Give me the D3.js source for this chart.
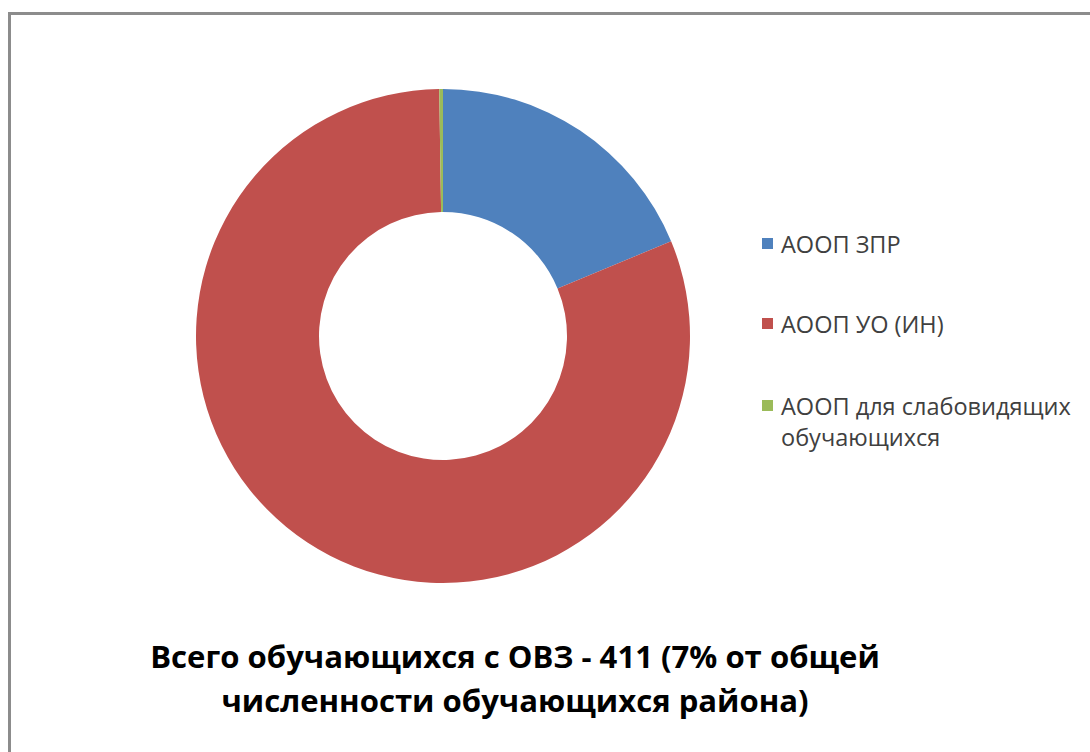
<!DOCTYPE html>
<html><head><meta charset="utf-8">
<script src="https://cdn.jsdelivr.net/npm/d3@7/dist/d3.min.js"></script>
<style>html,body{margin:0;padding:0;background:#fff;overflow:hidden}</style>
</head><body>
<svg id="c" width="1090" height="752"></svg>
<script>
const categories = ["АООП ЗПР", "АООП УО (ИН)", "АООП для слабовидящих обучающихся"];
const values = [77, 333, 1];
const colors = ["#4F81BD", "#C0504D", "#9BBB59"];
const legendLines = [["АООП ЗПР"], ["АООП УО (ИН)"], ["АООП для слабовидящих", "обучающихся"]];
const titleLines = ["Всего обучающихся с ОВЗ - 411 (7% от общей", "численности обучающихся района)"];

const svg = d3.select("#c");
svg.append("rect").attr("x", 0).attr("y", 0).attr("width", 1090).attr("height", 752).attr("fill", "#fff");
svg.append("rect").attr("x", 9.5).attr("y", 13.5).attr("width", 1200).attr("height", 1000)
  .attr("fill", "none").attr("stroke", "#8c8c8c").attr("stroke-width", 3);

const cx = 443, cy = 336, rOut = 247, rIn = 124;
const pie = d3.pie().sort(null).value(d => d)(values);
const arc = d3.arc().innerRadius(rIn).outerRadius(rOut);
const g = svg.append("g").attr("transform", `translate(${cx},${cy})`);
g.selectAll("path").data(pie).join("path")
  .attr("d", arc).attr("fill", (d, i) => colors[i]);

const font = "'Open Sans', 'DejaVu Sans', sans-serif";
const legY = [253, 333, 415];
const lg = svg.append("g");
categories.forEach((c, i) => {
  lg.append("rect").attr("x", 762).attr("y", legY[i] - 15).attr("width", 11).attr("height", 11).attr("fill", colors[i]);
  legendLines[i].forEach((t, j) => {
    lg.append("text").attr("x", 781).attr("y", legY[i] + j * 31)
      .attr("font-family", font).attr("font-size", 23.5).attr("fill", "#404040").text(t);
  });
});

const tg = svg.append("g");
const tY = [668, 712];
titleLines.forEach((t, i) => {
  tg.append("text").attr("x", 515).attr("y", tY[i]).attr("text-anchor", "middle")
    .attr("font-family", font).attr("font-weight", "bold").attr("font-size", 28)
    .attr("fill", "#000").text(t);
});
const n0 = tg.select("text").node();
const w0 = n0.getComputedTextLength();
const fs = 28 * 730 / w0;
tg.selectAll("text").attr("font-size", fs);
</script>
</body></html>
